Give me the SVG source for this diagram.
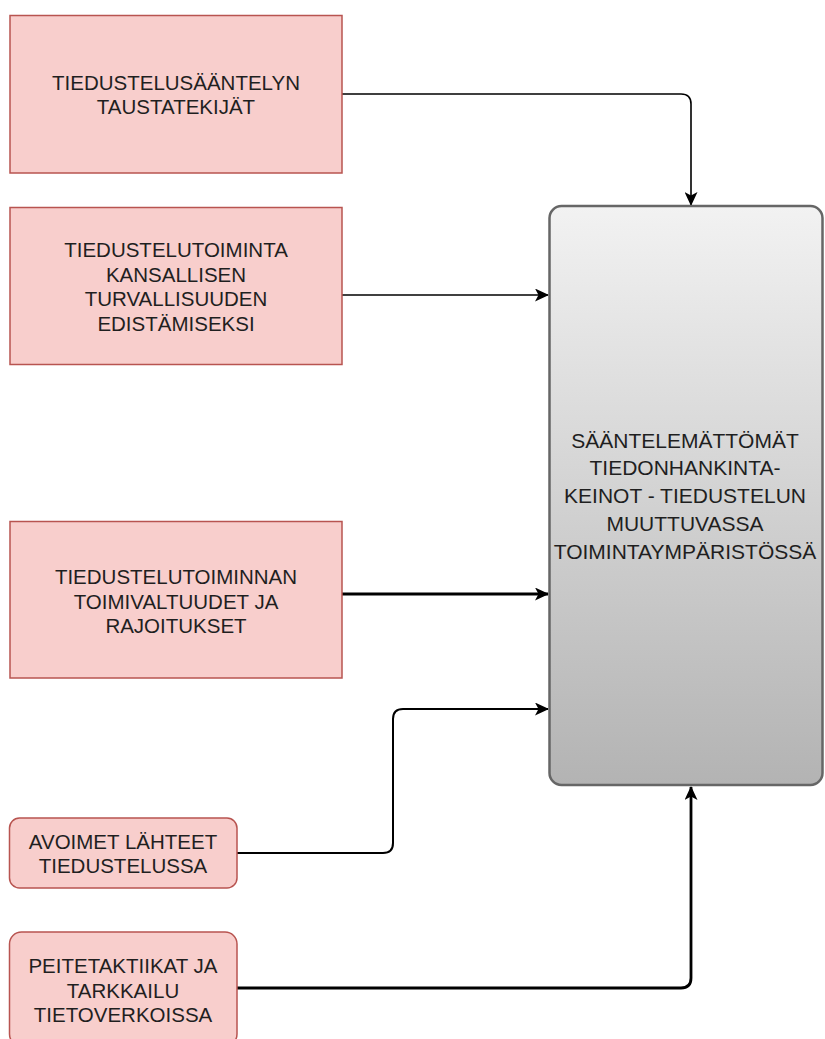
<svg xmlns="http://www.w3.org/2000/svg" width="825" height="1039" viewBox="0 0 825 1039">
  <style>
    .box { fill: #f8cecc; stroke: #b85450; stroke-width: 1.5; }
    .label { font-family: "Liberation Sans", Arial, sans-serif; font-size: 20.5px; fill: #1f1f1f; text-anchor: middle; }
    .main-label { font-size: 21px; }
    .edge { fill: none; stroke: #000; stroke-linejoin: round; }
    .thin { stroke-width: 1.6; }
    .thick { stroke-width: 2.8; }
  </style>
  <defs>
    <linearGradient id="mainFill" x1="0" y1="0" x2="0" y2="1">
      <stop offset="0" stop-color="#f2f2f2"/>
      <stop offset="1" stop-color="#b3b3b3"/>
    </linearGradient>
    <marker id="arrow" viewBox="0 0 14 13" refX="13" refY="6.5" markerWidth="14" markerHeight="13" markerUnits="userSpaceOnUse" orient="auto">
      <path d="M0,0 L14,6.5 L0,13 L3.5,6.5 Z" fill="#000"/>
    </marker>
  </defs>

  <rect width="825" height="1039" fill="#fff"/>

  <!-- connectors -->
  <g id="connectors">
    <path class="edge thin" d="M342,94 H681 Q691,94 691,104 V205" marker-end="url(#arrow)"/>
    <path class="edge thin" d="M342,295 H548" marker-end="url(#arrow)"/>
    <path class="edge thick" d="M342,594 H548" marker-end="url(#arrow)"/>
    <path class="edge" stroke-width="2" d="M237,853 H383 Q393,853 393,843 V719 Q393,709 403,709 H548" marker-end="url(#arrow)"/>
    <path class="edge thick" d="M237,988 H681 Q691,988 691,978 V787" marker-end="url(#arrow)"/>
  </g>

  <!-- source nodes -->
  <g id="node-taustatekijat">
    <rect class="box" x="10" y="15.5" width="332" height="157.5"/>
    <text class="label" x="176" y="89.5">TIEDUSTELUSÄÄNTELYN</text>
    <text class="label" x="176" y="114">TAUSTATEKIJÄT</text>
  </g>

  <g id="node-kansallinen-turvallisuus">
    <rect class="box" x="10" y="207.5" width="332" height="157"/>
    <text class="label" x="176" y="257">TIEDUSTELUTOIMINTA</text>
    <text class="label" x="176" y="281.5">KANSALLISEN</text>
    <text class="label" x="176" y="306">TURVALLISUUDEN</text>
    <text class="label" x="176" y="330.5">EDISTÄMISEKSI</text>
  </g>

  <g id="node-toimivaltuudet">
    <rect class="box" x="10" y="521.5" width="332" height="156.5"/>
    <text class="label" x="176" y="584">TIEDUSTELUTOIMINNAN</text>
    <text class="label" x="176" y="608.5">TOIMIVALTUUDET JA</text>
    <text class="label" x="176" y="633">RAJOITUKSET</text>
  </g>

  <g id="node-avoimet-lahteet">
    <rect class="box" x="9.5" y="818" width="227.5" height="70" rx="10" ry="10"/>
    <text class="label" x="123" y="848.5">AVOIMET LÄHTEET</text>
    <text class="label" x="123" y="873">TIEDUSTELUSSA</text>
  </g>

  <g id="node-peitetaktiikat">
    <rect class="box" x="9.5" y="932" width="227.5" height="114" rx="12" ry="12"/>
    <text class="label" x="123" y="973">PEITETAKTIIKAT JA</text>
    <text class="label" x="123" y="997.5">TARKKAILU</text>
    <text class="label" x="123" y="1022">TIETOVERKOISSA</text>
  </g>

  <!-- target node -->
  <g id="node-saantelemattomat">
    <rect x="549.5" y="206" width="273" height="579" rx="12" ry="12" fill="url(#mainFill)" stroke="#666" stroke-width="2.5"/>
    <text class="label main-label" x="685" y="447.5">SÄÄNTELEMÄTTÖMÄT</text>
    <text class="label main-label" x="685" y="475.2">TIEDONHANKINTA-</text>
    <text class="label main-label" x="685" y="503">KEINOT - TIEDUSTELUN</text>
    <text class="label main-label" x="685" y="530.5">MUUTTUVASSA</text>
    <text class="label main-label" x="685" y="558.5">TOIMINTAYMPÄRISTÖSSÄ</text>
  </g>
</svg>
